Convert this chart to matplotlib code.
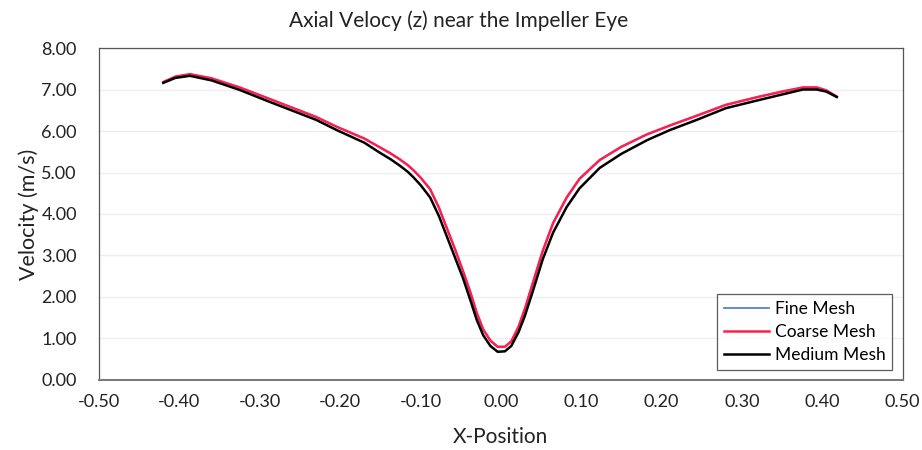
import matplotlib
matplotlib.use("Agg")
import matplotlib.pyplot as plt

plt.rcParams["font.family"] = ["Lato", "DejaVu Sans"]

# radial positions across the eye and axial velocity for each mesh
x_medium = [-0.420, -0.405, -0.387, -0.360, -0.325, -0.290, -0.262, -0.230,
            -0.204, -0.170, -0.150, -0.138, -0.126, -0.116, -0.109, -0.100,
            -0.088, -0.077, -0.067, -0.057, -0.047, -0.038, -0.030, -0.022,
            -0.013, -0.004, 0.005, 0.013, 0.022, 0.030, 0.040, 0.052, 0.065,
            0.082, 0.098, 0.123, 0.150, 0.182, 0.210, 0.244, 0.280, 0.322,
            0.350, 0.376, 0.393, 0.405, 0.418]
v_medium = [7.16, 7.28, 7.33, 7.22, 6.99, 6.72, 6.51, 6.27,
            6.02, 5.72, 5.47, 5.33, 5.17, 5.02, 4.89, 4.70,
            4.40, 3.95, 3.45, 2.95, 2.45, 1.93, 1.45, 1.08,
            0.82, 0.68, 0.69, 0.82, 1.15, 1.55, 2.15, 2.90, 3.55,
            4.17, 4.62, 5.11, 5.45, 5.78, 6.02, 6.27, 6.55, 6.75,
            6.88, 7.00, 7.00, 6.95, 6.82]

x_coarse = x_medium
v_coarse = [7.18, 7.31, 7.37, 7.27, 7.05, 6.79, 6.58, 6.34,
            6.10, 5.82, 5.60, 5.47, 5.32, 5.18, 5.06, 4.88,
            4.60, 4.15, 3.65, 3.15, 2.62, 2.12, 1.62, 1.22,
            0.95, 0.80, 0.80, 0.93, 1.28, 1.72, 2.35, 3.10, 3.78,
            4.40, 4.85, 5.30, 5.62, 5.92, 6.13, 6.37, 6.63, 6.83,
            6.95, 7.05, 7.05, 6.98, 6.83]

# fine mesh sits on top of the coarse result
x_fine = x_medium
v_fine = v_coarse

xticks = [-0.5, -0.4, -0.3, -0.2, -0.1, 0.0, 0.1, 0.2, 0.3, 0.4, 0.5]
yticks = [0, 1, 2, 3, 4, 5, 6, 7, 8]

fig = plt.figure(figsize=(9.22, 4.5), dpi=100)
ax = fig.add_axes([0.1074, 0.1556, 0.8716, 0.7377])

ax.plot(x_fine, v_fine, color="#5b7fd6", linewidth=1.3, label="Fine Mesh")
ax.plot(x_coarse, v_coarse, color="#ff1f4f", linewidth=1.8, label="Coarse Mesh")
ax.plot(x_medium, v_medium, color="black", linewidth=1.8, label="Medium Mesh")

ax.set_xlim(-0.5, 0.5)
ax.set_ylim(0, 8)
ax.set_xticks(xticks)
ax.set_xticklabels([f"{t:.2f}" for t in xticks])
ax.set_yticks(yticks)
ax.set_yticklabels([f"{t:.2f}" for t in yticks])
ax.tick_params(axis="x", length=0, labelsize=13, colors="#222222", pad=10)
ax.tick_params(axis="y", length=0, labelsize=13, colors="#222222", pad=16)
ax.yaxis.grid(True, color="#efefef", linewidth=1)
ax.set_axisbelow(True)
for side in ["left", "top", "right"]:
    ax.spines[side].set_color("#555555")
    ax.spines[side].set_linewidth(0.9)
ax.spines["bottom"].set_color("#777777")
ax.spines["bottom"].set_linewidth(1.4)

ax.set_xlabel("X-Position", fontsize=15, color="#222222", labelpad=12)
ax.set_ylabel("Velocity (m/s)", fontsize=15.5, color="#222222", labelpad=2)
fig.text(0.497, 0.955, "Axial Velocy (z) near the Impeller Eye",
         ha="center", va="center", fontsize=15, color="#222222")

leg = ax.legend(loc="lower right", fontsize=12.5, frameon=True, fancybox=False,
                borderaxespad=0.6, handlelength=2.6, handletextpad=0.3,
                labelspacing=0.38, borderpad=0.4)
leg.get_frame().set_edgecolor("#333333")
leg.get_frame().set_linewidth(0.9)

fig.savefig("out.png", dpi=100)
